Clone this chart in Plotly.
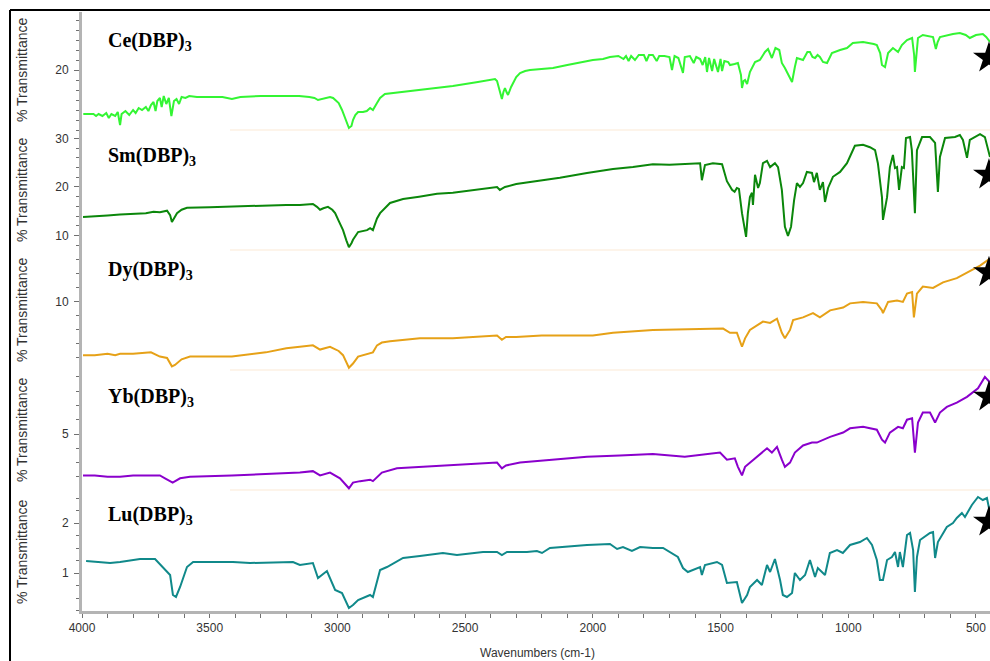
import plotly.graph_objects as go

# ---------------- data ----------------
x_tick_vals = [4000, 3500, 3000, 2500, 2000, 1500, 1000, 500]
x_range = [4000, 445]

sample_names = ["Ce(DBP)<sub>3</sub>", "Sm(DBP)<sub>3</sub>", "Dy(DBP)<sub>3</sub>",
                "Yb(DBP)<sub>3</sub>", "Lu(DBP)<sub>3</sub>"]

ce_wn = [3995, 3975, 3955, 3945, 3935, 3920, 3905, 3895, 3885, 3870, 3860, 3851, 3845, 3830, 3815,
         3800, 3790, 3778, 3765, 3750, 3740, 3730, 3720, 3712, 3705, 3695, 3688, 3680, 3670, 3660,
         3650, 3640, 3630, 3620, 3610, 3595, 3580, 3550, 3500, 3450, 3413, 3380, 3300, 3250, 3186,
         3150, 3110, 3090, 3076, 3060, 3040, 3029, 3017, 2995, 2982, 2970, 2955, 2945, 2939, 2930,
         2919, 2900, 2885, 2872, 2861, 2845, 2833, 2814, 2750, 2677, 2600, 2548, 2450, 2383, 2375,
         2371, 2362, 2356, 2350, 2344, 2338, 2332, 2320, 2313, 2300, 2285, 2265, 2246, 2200, 2156,
         2100, 2062, 2030, 2000, 1960, 1933, 1900, 1880, 1870, 1860, 1850, 1835, 1820, 1800, 1790,
         1780, 1765, 1750, 1740, 1720, 1700, 1690, 1680, 1665, 1647, 1640, 1620, 1605, 1595, 1580,
         1570, 1560, 1553, 1545, 1533, 1525, 1510, 1500, 1494, 1485, 1470, 1463, 1445, 1432, 1420,
         1416, 1410, 1404, 1396, 1385, 1365, 1346, 1326, 1314, 1299, 1285, 1270, 1260, 1248, 1230,
         1220, 1209, 1201, 1177, 1160, 1150, 1140, 1130, 1120, 1111, 1099, 1083, 1064, 1032, 1005,
         982, 942, 900, 888, 875, 868, 856, 850, 844, 825, 805, 790, 770, 750, 742,
         739, 735, 727, 708, 690, 668, 657, 650, 641, 614, 590, 563, 540, 524, 500,
         473, 460, 445]
ce_t = [15.6, 15.6, 15.6, 15.4, 15.6, 15.4, 15.7, 15.2, 15.6, 15.4, 15.8, 14.5, 15.6, 15.9, 15.5,
        16.0, 15.7, 16.2, 16.0, 16.3, 15.9, 16.5, 16.8, 15.9, 16.9, 17.2, 16.3, 17.4, 16.6, 17.2,
        15.4, 16.9, 17.1, 16.6, 17.3, 17.2, 17.4, 17.3, 17.3, 17.3, 17.1, 17.3, 17.4, 17.4, 17.4,
        17.4, 17.3, 17.2, 17.0, 17.1, 17.2, 17.3, 17.2, 16.7, 16.0, 15.2, 14.2, 14.4, 15.0, 15.5,
        15.8, 15.8, 15.9, 16.2, 16.0, 16.7, 17.2, 17.6, 17.8, 18.0, 18.2, 18.4, 18.8, 19.1, 18.9,
        18.5, 17.6, 17.1, 17.8, 18.2, 17.8, 17.5, 18.3, 18.7, 19.3, 19.7, 19.9, 20.0, 20.1, 20.2,
        20.5, 20.7, 20.8, 21.0, 21.1, 21.3, 21.4, 21.1, 21.4, 20.9, 21.4, 21.0, 21.5, 21.5, 20.9,
        21.5, 21.5, 20.9, 21.4, 21.4, 21.3, 20.0, 21.4, 21.2, 19.7, 21.3, 21.4, 20.7, 21.3, 21.1,
        20.5, 21.3, 19.8, 21.2, 19.9, 21.1, 19.8, 21.1, 19.9, 20.9, 20.8, 20.5, 20.6, 20.7, 19.5,
        18.2, 18.9, 19.0, 18.6, 19.8, 20.8, 21.0, 21.8, 22.1, 21.2, 22.2, 22.0, 20.7, 20.2, 19.2,
        18.8, 20.3, 21.2, 21.0, 21.8, 21.8, 21.3, 21.2, 21.5, 21.3, 20.8, 20.7, 21.7, 22.0, 22.2,
        22.7, 22.8, 22.6, 22.5, 21.7, 20.5, 20.3, 21.0, 21.7, 22.2, 21.8, 22.5, 23.0, 23.2, 21.5,
        19.8, 21.0, 23.2, 23.5, 23.4, 23.3, 22.1, 22.8, 23.3, 23.5, 23.6, 23.7, 23.5, 23.2, 23.5,
        23.6, 23.3, 22.8]

sm_wn = [3996, 3950, 3900, 3851, 3800, 3750, 3720, 3695, 3667, 3655, 3648, 3638, 3628, 3610, 3589,
         3500, 3400, 3300, 3200, 3147, 3096, 3080, 3068, 3055, 3037, 3020, 3009, 2995, 2978, 2965,
         2955, 2945, 2939, 2919, 2900, 2884, 2872, 2861, 2845, 2833, 2794, 2743, 2680, 2610, 2548,
         2450, 2375, 2364, 2344, 2300, 2246, 2180, 2129, 2023, 1921, 1843, 1765, 1700, 1620, 1580,
         1573, 1561, 1530, 1494, 1475, 1455, 1445, 1436, 1428, 1416, 1400, 1393, 1385, 1377, 1373,
         1365, 1353, 1346, 1334, 1318, 1306, 1287, 1275, 1260, 1248, 1236, 1224, 1212, 1201, 1189,
         1177, 1162, 1142, 1134, 1123, 1111, 1099, 1091, 1079, 1060, 1032, 1005, 974, 942, 915,
         895, 884, 868, 864, 848, 837, 825, 817, 809, 801, 790, 782, 774, 758, 751,
         739, 731, 711, 680, 660, 649, 641, 621, 582, 563, 551, 535, 524, 484, 465,
         453, 445]
sm_t = [13.8, 13.9, 14.1, 14.3, 14.5, 14.6, 14.9, 14.8, 15.1, 14.2, 12.8, 13.6, 14.6, 15.3, 15.7,
        15.8, 16.0, 16.1, 16.3, 16.3, 16.5, 15.9, 15.3, 15.6, 15.9, 15.3, 14.6, 13.0, 11.1, 9.0,
        7.6, 8.4, 9.1, 10.7, 10.9, 11.1, 11.5, 11.1, 13.5, 14.6, 16.7, 17.5, 18.0, 18.6, 18.8,
        19.5, 20.0, 19.4, 20.0, 20.6, 21.0, 21.5, 21.9, 22.9, 23.7, 24.1, 24.7, 24.6, 24.7, 24.9,
        21.4, 24.5, 24.9, 24.7, 21.2, 19.4, 19.0, 19.8, 19.6, 14.6, 9.7, 14.6, 17.9, 18.8, 16.3,
        22.5, 19.8, 20.8, 24.9, 25.4, 24.1, 24.9, 24.1, 19.4, 11.8, 9.9, 11.8, 17.3, 20.8, 20.0,
        20.8, 23.1, 22.9, 21.0, 22.9, 19.4, 21.0, 16.9, 19.8, 22.1, 23.1, 24.9, 28.5, 28.7, 28.2,
        27.6, 24.9, 17.9, 13.2, 17.9, 24.1, 26.6, 23.9, 24.1, 19.4, 24.1, 23.9, 30.1, 30.3, 27.6,
        14.6, 27.6, 30.3, 30.3, 29.1, 19.0, 26.2, 30.1, 30.3, 30.7, 29.7, 26.0, 29.7, 30.9, 30.3,
        27.6, 26.2]

dy_wn = [3996, 3950, 3900, 3870, 3851, 3800, 3730, 3695, 3667, 3648, 3636, 3610, 3577, 3413, 3280,
         3200, 3147, 3096, 3068, 3029, 2995, 2978, 2955, 2939, 2919, 2884, 2861, 2845, 2826, 2794,
         2677, 2548, 2375, 2356, 2340, 2300, 2200, 2000, 1921, 1765, 1580, 1490, 1463, 1436, 1416,
         1404, 1385, 1334, 1306, 1279, 1260, 1248, 1228, 1216, 1177, 1150, 1138, 1111, 1071, 1020,
         993, 942, 888, 868, 864, 844, 809, 786, 770, 750, 743, 731, 708, 668, 649,
         629, 575, 535, 484, 445]
dy_t = [6.2, 6.2, 6.3, 6.2, 6.3, 6.3, 6.4, 6.1, 6.0, 5.4, 5.5, 5.9, 6.1, 6.1, 6.4,
        6.7, 6.8, 6.9, 6.6, 6.8, 6.5, 6.2, 5.3, 5.6, 6.1, 6.3, 6.4, 6.9, 7.1, 7.2,
        7.4, 7.4, 7.6, 7.3, 7.5, 7.5, 7.6, 7.6, 7.8, 8.0, 8.1, 8.1, 7.8, 7.8, 6.8,
        7.4, 8.0, 8.6, 8.5, 8.8, 7.8, 7.4, 8.0, 8.7, 8.9, 9.1, 9.2, 8.9, 9.4, 9.6,
        9.9, 10.0, 9.9, 9.4, 9.2, 10.0, 10.1, 10.0, 10.6, 10.7, 8.9, 10.6, 11.1, 11.0, 11.2,
        11.4, 11.7, 12.1, 12.6, 13.1]

yb_wn = [3996, 3950, 3900, 3851, 3800, 3735, 3695, 3675, 3645, 3616, 3577, 3413, 3300, 3147, 3096,
         3068, 3029, 2990, 2955, 2939, 2911, 2872, 2861, 2826, 2767, 2548, 2375, 2356, 2340, 2285,
         2156, 2023, 1894, 1765, 1640, 1502, 1475, 1444, 1432, 1416, 1404, 1385, 1357, 1318, 1299,
         1279, 1260, 1248, 1228, 1209, 1177, 1142, 1123, 1071, 1020, 993, 942, 888, 868, 856,
         837, 805, 786, 770, 750, 739, 727, 708, 680, 660, 641, 614, 575, 535, 492,
         465, 445]
yb_t = [2.1, 2.1, 2.0, 2.0, 2.1, 2.1, 2.1, 1.9, 1.6, 1.9, 2.0, 2.1, 2.2, 2.3, 2.4,
        2.1, 2.3, 1.9, 1.2, 1.6, 1.7, 1.8, 1.7, 2.3, 2.6, 2.8, 3.0, 2.6, 2.8, 3.0,
        3.2, 3.4, 3.5, 3.6, 3.4, 3.7, 3.2, 3.3, 2.7, 2.1, 2.7, 3.0, 3.4, 4.0, 3.7,
        4.1, 3.2, 2.7, 3.0, 3.7, 4.2, 4.4, 4.4, 4.8, 5.1, 5.4, 5.5, 5.3, 4.6, 4.4,
        5.1, 5.5, 5.4, 6.0, 6.1, 3.7, 5.8, 6.5, 6.5, 5.8, 6.5, 6.9, 7.2, 7.6, 8.2,
        9.0, 8.6]

lu_wn = [3984, 3930, 3890, 3851, 3773, 3714, 3683, 3655, 3644, 3632, 3616, 3589, 3565, 3409, 3342,
         3174, 3147, 3096, 3076, 3049, 3041, 3009, 2982, 2955, 2939, 2919, 2872, 2861, 2833, 2806,
         2743, 2677, 2587, 2532, 2430, 2375, 2356, 2336, 2258, 2219, 2199, 2168, 2023, 1933, 1905,
         1882, 1847, 1815, 1765, 1725, 1690, 1667, 1647, 1628, 1580, 1573, 1561, 1514, 1494, 1475,
         1436, 1416, 1396, 1385, 1357, 1338, 1318, 1306, 1287, 1267, 1256, 1240, 1220, 1209, 1189,
         1169, 1150, 1130, 1119, 1091, 1072, 1044, 1021, 993, 954, 927, 907, 888, 876, 864,
         848, 829, 817, 805, 798, 786, 770, 758, 746, 739, 731, 719, 680, 668, 660,
         649, 614, 590, 575, 555, 543, 516, 492, 473, 457, 445]
lu_t = [1.24, 1.22, 1.20, 1.22, 1.28, 1.28, 1.10, 0.96, 0.56, 0.52, 0.72, 1.12, 1.22, 1.22, 1.20,
        1.22, 1.16, 1.20, 0.90, 1.00, 1.04, 0.66, 0.60, 0.30, 0.36, 0.46, 0.56, 0.52, 1.06, 1.12,
        1.30, 1.34, 1.40, 1.36, 1.42, 1.42, 1.36, 1.42, 1.42, 1.44, 1.40, 1.50, 1.56, 1.58, 1.48,
        1.52, 1.44, 1.52, 1.50, 1.50, 1.40, 1.32, 1.10, 1.02, 1.12, 0.96, 1.16, 1.22, 1.16, 0.80,
        0.82, 0.40, 0.56, 0.72, 0.86, 0.76, 1.16, 1.02, 1.28, 0.86, 0.56, 0.52, 0.60, 1.00, 0.86,
        0.96, 1.26, 0.92, 1.10, 0.96, 1.40, 1.46, 1.40, 1.56, 1.62, 1.70, 1.56, 1.26, 0.86, 0.86,
        1.26, 1.32, 1.42, 1.12, 1.42, 1.12, 1.76, 1.80, 1.46, 0.62, 1.32, 1.66, 1.80, 1.82, 1.30,
        1.62, 1.92, 2.00, 2.10, 2.20, 2.12, 2.36, 2.52, 2.46, 2.50, 2.20]

star_wn = [449, 449, 449, 449, 449]
star_t = [21.2, 22.5, 12.1, 7.6, 2.02]

y_ranges = [[14.0, 25.8], [7.0, 31.75], [5.14, 13.71], [1.08, 9.48], [0.24, 2.66]]
y_dticks = [10, 10, 5, 5, 1]
y_minor = [1, 2, 1, 1, 0.25]

# ---------------- styling / layout ----------------
colors = ["#33f533", "#0b870b", "#e6a117", "#8a00cc", "#10898a"]
W, H = 990, 661
L, R, T, B = 82, 0, 12, 50
plot_h = H - T - B
plot_w = W - L - R

def py2paper(py):
    return (H - B - py) / plot_h

def px2paper(px):
    return (px - L) / plot_w

bounds = [12, 130, 250, 370, 490, 611]
domains = [[py2paper(bounds[i + 1]), py2paper(bounds[i])] for i in range(5)]
domains[-1][0] = 0.0
domains[0][1] = 1.0

series = [(ce_wn, ce_t), (sm_wn, sm_t), (dy_wn, dy_t), (yb_wn, yb_t), (lu_wn, lu_t)]

fig = go.Figure()
for i, (wn, t) in enumerate(series):
    yname = "y" if i == 0 else f"y{i + 1}"
    fig.add_trace(go.Scatter(x=wn, y=t, mode="lines", xaxis="x", yaxis=yname,
                             line=dict(color=colors[i], width=2), showlegend=False,
                             hoverinfo="skip"))
    fig.add_trace(go.Scatter(x=[star_wn[i]], y=[star_t[i]], mode="markers", xaxis="x", yaxis=yname,
                             marker=dict(symbol="star", size=24, color="black"),
                             cliponaxis=False, showlegend=False, hoverinfo="skip"))

tickfont = dict(family="Liberation Sans, Arial, sans-serif", size=12, color="#333333")
axis_line = "#b4b4b4"

layout = dict(
    width=W, height=H,
    margin=dict(l=L, r=R, t=T, b=B),
    paper_bgcolor="white", plot_bgcolor="white",
    xaxis=dict(range=x_range, tickvals=x_tick_vals, ticktext=[str(v) for v in x_tick_vals],
               ticks="outside", ticklen=4, tickcolor="#707070", showline=True,
               linecolor=axis_line, linewidth=3, showgrid=False, zeroline=False,
               anchor="y5", tickfont=tickfont,
               minor=dict(dtick=100, tick0=0, ticks="outside", ticklen=4, tickcolor="#707070")),
)
for i in range(5):
    key = "yaxis" if i == 0 else f"yaxis{i + 1}"
    layout[key] = dict(domain=domains[i], range=y_ranges[i], dtick=y_dticks[i], tick0=0,
                       ticks="outside", ticklen=5, tickcolor="#707070", showline=True,
                       linecolor=axis_line, linewidth=3, showgrid=False, zeroline=False,
                       anchor="x", tickfont=tickfont, ticklabelstandoff=3,
                       minor=dict(dtick=y_minor[i], tick0=0, ticks="outside", ticklen=3,
                                  tickcolor="#707070"))

annotations = []
label_py = [41, 156, 270, 397, 515]
title_py = [70, 190, 310, 430, 552]
for i in range(5):
    annotations.append(dict(text=f"<b>{sample_names[i]}</b>", xref="paper", yref="paper",
                            x=px2paper(106), y=py2paper(label_py[i]), xanchor="left",
                            yanchor="middle", showarrow=False,
                            font=dict(family="Liberation Serif, Times New Roman, serif",
                                      size=20, color="black")))
    annotations.append(dict(text="% Transmittance", xref="paper", yref="paper",
                            x=px2paper(22), y=py2paper(title_py[i]), xanchor="center",
                            yanchor="middle", textangle=-90, showarrow=False,
                            font=dict(family="Liberation Sans, Arial, sans-serif", size=14,
                                      color="#333333")))
annotations.append(dict(text="Wavenumbers (cm-1)", xref="paper", yref="paper",
                        x=px2paper(537), y=py2paper(653), xanchor="center", yanchor="middle",
                        showarrow=False,
                        font=dict(family="Liberation Sans, Arial, sans-serif", size=12,
                                  color="#333333")))
layout["annotations"] = annotations

shapes = []
# outer frame (left and top)
shapes.append(dict(type="line", xref="paper", yref="paper", x0=px2paper(10), x1=px2paper(10),
                   y0=py2paper(661), y1=py2paper(10), line=dict(color="black", width=2)))
shapes.append(dict(type="line", xref="paper", yref="paper", x0=px2paper(10), x1=1.0,
                   y0=py2paper(10), y1=py2paper(10), line=dict(color="black", width=2)))
# faint panel separators
for b in bounds[1:5]:
    shapes.append(dict(type="line", xref="paper", yref="paper", x0=px2paper(230), x1=1.0,
                       y0=py2paper(b), y1=py2paper(b), line=dict(color="#fdf4ea", width=2),
                       layer="below"))
layout["shapes"] = shapes

fig.update_layout(**layout)
fig.write_html("out.html", config={"displayModeBar": False},
               post_script="document.body.style.margin='0';document.body.style.padding='0';"
                           "document.body.style.overflow='hidden';")
